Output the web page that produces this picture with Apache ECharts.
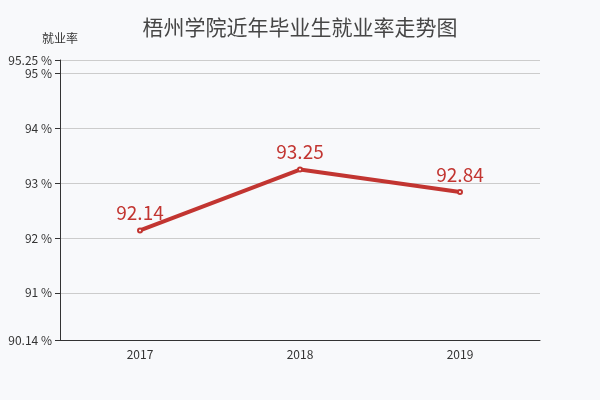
<!DOCTYPE html>
<html>
<head>
<meta charset="utf-8">
<script src="https://cdn.jsdelivr.net/npm/echarts@6/dist/echarts.min.js"></script>
<style>html,body{margin:0;background:#f8f9fb}#main{width:600px;height:400px}</style>
</head>
<body>
<div id="main"></div>
<script>
var years = ['2017', '2018', '2019'];
var rates = [92.14, 93.25, 92.84];

var option = {
    backgroundColor: '#f8f9fb',
    textStyle: { fontFamily: 'Noto Sans CJK SC' },
    title: {
        text: '梧州学院近年毕业生就业率走势图',
        left: 'center',
        top: 12,
        textStyle: { fontSize: 21, fontWeight: 'normal', color: '#464646', fontFamily: 'Noto Sans CJK SC' }
    },
    grid: { left: 60, right: 60, top: 60, bottom: 60 },
    xAxis: {
        type: 'category',
        data: years,
        axisLine: { lineStyle: { color: '#333' } },
        axisLabel: { color: '#333' }
    },
    yAxis: {
        type: 'value',
        name: '就业率',
        nameGap: 16,
        nameTextStyle: { color: '#333', padding: [0, 0, 0, 0] },
        min: 90.14,
        max: 95.25,
        axisLine: { show: true, lineStyle: { color: '#333' } },
        axisTick: { show: true },
        axisLabel: { formatter: '{value} %', color: '#333' },
        splitLine: { lineStyle: { color: '#ccc' } }
    },
    series: [{
        type: 'line',
        data: rates,
        itemStyle: { color: '#c23531' },
        lineStyle: { width: 4, color: '#c23531' },
        symbolSize: 4,
        label: { show: true, position: 'top', fontSize: 19, color: '#c23531' }
    }]
};

var myChart = echarts.init(document.getElementById('main'));
myChart.setOption(option);
</script>
</body>
</html>
